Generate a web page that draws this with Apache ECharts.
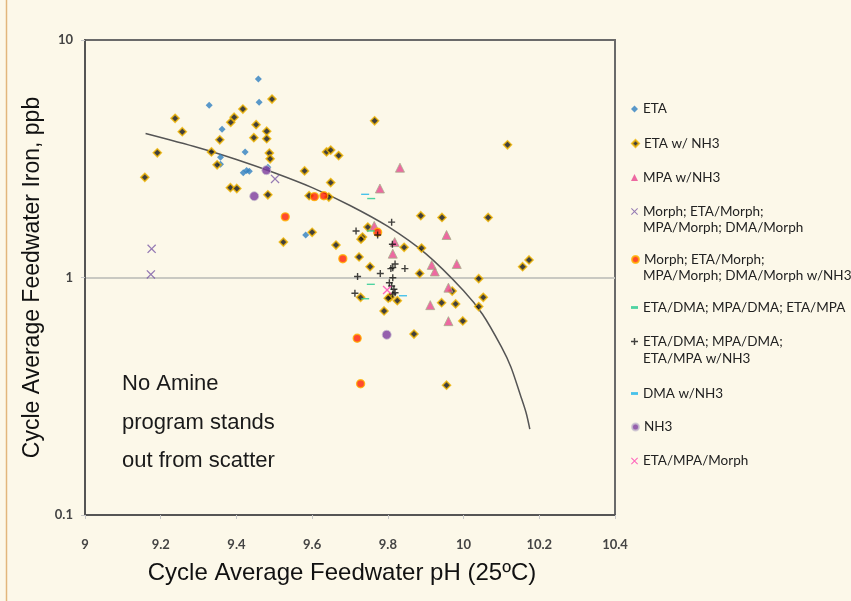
<!DOCTYPE html>
<html>
<head>
<meta charset="utf-8">
<script src="https://cdn.jsdelivr.net/npm/echarts@6/dist/echarts.min.js"></script>
<style>
html,body{margin:0;padding:0;background:#fcf8e9;}
#chart{width:851px;height:601px;}
</style>
</head>
<body>
<div id="chart"></div>
<script>
// ---- data (pH, Fe ppb) ----
const xTicks = [9, 9.2, 9.4, 9.6, 9.8, 10, 10.2, 10.4];
const yTicks = [0.1, 1, 10];

const seriesNames = [
  "ETA",
  "ETA w/ NH3",
  "MPA w/NH3",
  "Morph; ETA/Morph; MPA/Morph; DMA/Morph",
  "Morph; ETA/Morph; MPA/Morph; DMA/Morph w/NH3",
  "ETA/DMA; MPA/DMA; ETA/MPA",
  "ETA/DMA; MPA/DMA; ETA/MPA w/NH3",
  "DMA w/NH3",
  "NH3",
  "ETA/MPA/Morph"
];
const legendLines = [
  ["ETA"],
  ["ETA w/ NH3"],
  ["MPA w/NH3"],
  ["Morph; ETA/Morph;", "MPA/Morph; DMA/Morph"],
  ["Morph; ETA/Morph;", "MPA/Morph; DMA/Morph w/NH3"],
  ["ETA/DMA; MPA/DMA; ETA/MPA"],
  ["ETA/DMA; MPA/DMA;", "ETA/MPA w/NH3"],
  ["DMA w/NH3"],
  ["NH3"],
  ["ETA/MPA/Morph"]
];

const eta = [[9.458,6.85],[9.328,5.31],[9.460,5.47],[9.362,4.21],[9.423,3.38],[9.358,3.21],[9.358,3.00],[9.418,2.76],[9.427,2.82],[9.434,2.80],[9.483,2.91],[9.583,1.51]];
const etaNH3 = [[9.494,5.64],[9.417,5.12],[9.238,4.68],[9.394,4.73],[9.385,4.50],[9.257,4.11],[9.452,4.40],[9.480,4.13],[9.446,3.88],[9.480,3.84],[9.356,3.80],[9.191,3.35],[9.334,3.38],[9.487,3.34],[9.489,3.16],[9.349,2.98],[9.158,2.64],[9.580,2.81],[9.384,2.39],[9.401,2.37],[9.483,2.23],[9.592,2.21],[9.765,4.57],[10.116,3.62],[9.638,3.38],[9.649,3.44],[9.670,3.26],[9.649,2.51],[9.644,2.18],[9.887,1.82],[9.943,1.79],[10.065,1.79],[9.524,1.41],[9.600,1.55],[9.747,1.63],[9.663,1.37],[9.733,1.48],[9.729,1.45],[9.843,1.34],[9.889,1.33],[9.724,1.22],[9.753,1.11],[9.884,1.04],[9.806,0.825],[9.801,0.818],[9.825,0.799],[9.728,0.825],[9.790,0.723],[10.156,1.11],[10.173,1.185],[10.040,0.989],[9.970,0.877],[10.052,0.825],[9.942,0.783],[9.979,0.774],[10.040,0.754],[9.998,0.656],[9.869,0.578],[9.955,0.352]];
const mpaNH3 = [[9.832,2.90],[9.779,2.37],[9.764,1.65],[9.818,1.41],[9.813,1.26],[9.916,1.13],[9.924,1.06],[9.982,1.14],[9.955,1.51],[9.960,0.906],[9.912,0.765],[9.960,0.655]];
const morph = [[9.502,2.60],[9.176,1.32],[9.174,1.03]];
const morphNH3 = [[9.529,1.80],[9.606,2.19],[9.631,2.21],[9.773,1.55],[9.681,1.20],[9.719,0.555],[9.728,0.357]];
const etaDma = [[9.756,2.15],[9.755,1.57],[9.755,0.936],[9.740,0.814]];
const etaDmaNH3 = [[9.810,1.71],[9.716,1.57],[9.812,1.38],[9.819,1.14],[9.813,1.10],[9.808,1.09],[9.845,1.09],[9.780,1.04],[9.720,1.01],[9.813,0.998],[9.804,0.951],[9.810,0.921],[9.816,0.892],[9.819,0.863],[9.813,0.852],[9.713,0.858],[9.773,1.51]];
const dmaNH3 = [[9.740,2.24],[9.840,0.838]];
const nh3 = [[9.479,2.83],[9.447,2.20],[9.797,0.574]];
const etaMpaMorph = [[9.798,0.886]];

// trend line
const trendPH = [9.16, 9.3, 9.4, 9.5, 9.6, 9.7, 9.8, 9.9, 10.0, 10.05, 10.1, 10.125, 10.15, 10.165, 10.175];
const trendFe = [4.04, 3.52, 3.14, 2.76, 2.39, 2.01, 1.64, 1.26, 0.88, 0.70, 0.51, 0.42, 0.32, 0.27, 0.23];

const noteLines = ["No Amine", "program stands", "out from scatter"];

// ---- chart ----
const X_PATH = 'path://M1,0L5,4L9,0L10,1L6,5L10,9L9,10L5,6L1,10L0,9L4,5L0,1Z';
const PLUS_PATH = 'path://M4,0H6V4H10V6H6V10H4V6H0V4H4Z';
const DASH_PATH = 'path://M0,0H10V4H0Z';

const seriesData = [eta, etaNH3, mpaNH3, morph, morphNH3, etaDma, etaDmaNH3, dmaNH3, nh3, etaMpaMorph];
const seriesStyles = [
  {symbol:'diamond', symbolSize:7, itemStyle:{color:'#2f7fc0'}},
  {symbol:'diamond', symbolSize:8, itemStyle:{color:'#111111', borderColor:'#f0b400', borderWidth:1.6}},
  {symbol:'triangle', symbolSize:9, itemStyle:{color:'#e8458f', borderColor:'#a9ae8c', borderWidth:1}},
  {symbol:X_PATH, symbolSize:9, itemStyle:{color:'#7a5aa6'}},
  {symbol:'circle', symbolSize:8, itemStyle:{color:'#ff1e00', borderColor:'#ffb400', borderWidth:1.4}},
  {symbol:DASH_PATH, symbolSize:[8,3.5], symbolKeepAspect:true, itemStyle:{color:'#22c98e'}},
  {symbol:PLUS_PATH, symbolSize:7, itemStyle:{color:'#111111'}},
  {symbol:DASH_PATH, symbolSize:[8,3.5], symbolKeepAspect:true, itemStyle:{color:'#1ab4ea'}},
  {symbol:'circle', symbolSize:9, itemStyle:{color:'#7b3a9e', borderColor:'#c9c2cf', borderWidth:1}},
  {symbol:X_PATH, symbolSize:9, itemStyle:{color:'#ff3fb0'}}
];

const legendY = [109, 143.5, 177.5, 211.5, 259.5, 307.5, 341.5, 393.5, 427, 461];
const secondLineY = {3: 228.5, 4: 276.5, 6: 359.5};
const legendFont = {fontFamily:'Lato', fontSize:13.5, color:'#222222', lineHeight:16};

const series = [{
  type:'line', name:'trend', data: trendPH.map((p,i)=>[p, trendFe[i]]),
  showSymbol:false, smooth:0.3, silent:true, z:1,
  lineStyle:{color:'#555555', width:1.5}
}];
seriesNames.forEach((n,i)=>{
  series.push(Object.assign({type:'scatter', name:n, data:seriesData[i], z:2+i, emphasis:{disabled:true}}, seriesStyles[i]));
});

const legends = seriesNames.map((n,i)=>({
  show:true, orient:'vertical', left:631, top:legendY[i]-8, padding:0,
  itemWidth:7, itemHeight:7, itemGap:5, selectedMode:false,
  data:[ i === 2 ? {name:n, itemStyle:{borderWidth:0}} : n ],
  formatter:()=>legendLines[i][0], textStyle:legendFont
}));

const graphics = [
  {type:'line', shape:{x1:6.5,y1:0,x2:6.5,y2:601}, style:{stroke:'#e2b67c', lineWidth:1.5}, silent:true}
];
Object.keys(secondLineY).forEach(k=>{
  graphics.push({type:'text', left:643, top:secondLineY[k]-8, silent:true,
    style:{text:legendLines[k][1], font:'13.5px Lato', fill:'#222222'}});
});
const noteY = [385, 424, 462];
noteLines.forEach((t,i)=>{
  graphics.push({type:'text', left:122, top:noteY[i]-12, silent:true,
    style:{text:t, font:'22px "Liberation Sans"', fill:'#1a1a1a'}});
});

const chart = echarts.init(document.getElementById('chart'), null, {renderer:'canvas'});
chart.setOption({
  backgroundColor:'#fcf8e9',
  animation:false,
  grid:{left:85, top:40, right:236, bottom:86, show:true, borderColor:'#6a6a6a', borderWidth:2, backgroundColor:'transparent'},
  legend: legends,
  xAxis:{
    type:'value', min:xTicks[0], max:xTicks[xTicks.length-1], interval:0.2,
    name:'Cycle Average Feedwater pH (25ºC)', nameLocation:'middle', nameGap:46,
    nameTextStyle:{fontFamily:'Liberation Sans', fontSize:24, color:'#111111', padding:[0,16,0,0]},
    axisLine:{show:true, lineStyle:{color:'#555555', width:2}},
    axisTick:{show:true, length:4, lineStyle:{color:'#c8c8c8'}},
    axisLabel:{margin:23, fontFamily:'Lato', fontWeight:'bold', fontSize:13, color:'#444444',
      formatter:v=>String(+v.toFixed(1))},
    splitLine:{show:false}
  },
  yAxis:{
    type:'log', logBase:10, min:yTicks[0], max:yTicks[yTicks.length-1],
    name:'Cycle Average Feedwater Iron, ppb', nameLocation:'middle', nameGap:37,
    nameTextStyle:{fontFamily:'Liberation Sans', fontSize:23, color:'#111111'},
    axisLine:{show:true, lineStyle:{color:'#555555', width:2}},
    axisTick:{show:true, length:4, lineStyle:{color:'#c8c8c8'}},
    axisLabel:{margin:12, fontFamily:'Lato', fontWeight:'bold', fontSize:13, color:'#444444',
      formatter:v=>String(v)},
    splitLine:{show:true, showMinLine:false, showMaxLine:false, lineStyle:{color:'#c9c9c2', width:2}}
  },
  series: series,
  graphic: graphics
});
</script>
</body>
</html>
